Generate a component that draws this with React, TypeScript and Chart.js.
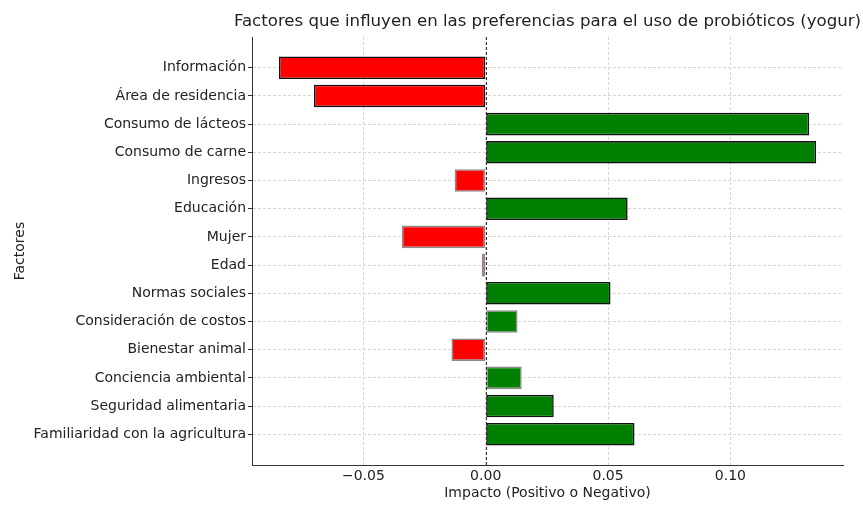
import React, { useEffect, useRef } from "react";
import { Chart, registerables } from "chart.js";

Chart.register(...registerables);

const chartTitle = "Factores que influyen en las preferencias para el uso de probióticos (yogur)";
const xAxisTitle = "Impacto (Positivo o Negativo)";
const yAxisTitle = "Factores";

const categories = [
  "Información",
  "Área de residencia",
  "Consumo de lácteos",
  "Consumo de carne",
  "Ingresos",
  "Educación",
  "Mujer",
  "Edad",
  "Normas sociales",
  "Consideración de costos",
  "Bienestar animal",
  "Conciencia ambiental",
  "Seguridad alimentaria",
  "Familiaridad con la agricultura",
];

const impacts = [
  -0.0845, -0.0702, 0.1322, 0.135, -0.0127, 0.058, -0.0343, -0.0016, 0.051, 0.013, -0.014, 0.0147, 0.0278,
  0.0608,
];

// whether the bar was drawn with a dark edge (significant) or a grey edge
const significant = [true, true, true, true, false, true, false, false, true, false, false, false, true, true];

const xTicks = [-0.05, 0, 0.05, 0.1];
const xMin = -0.0955;
const xMax = 0.146;

const FONT = "'DejaVu Sans', sans-serif";
const TEXT = "#222";

function fmtTick(v: number): string {
  const s = Math.abs(v).toFixed(2);
  return v < -1e-9 ? "\u2212" + s : s;
}

const overlayPlugin = {
  id: "overlay",
  afterDatasetsDraw(chart: any) {
    const { ctx, chartArea, scales } = chart;
    const x0 = scales.x.getPixelForValue(0);
    ctx.save();
    ctx.strokeStyle = "#333";
    ctx.lineWidth = 1;
    ctx.setLineDash([3, 2]);
    ctx.beginPath();
    ctx.moveTo(Math.round(x0) + 0.5, chartArea.top);
    ctx.lineTo(Math.round(x0) + 0.5, chartArea.bottom);
    ctx.stroke();
    ctx.restore();
  },
  afterDraw(chart: any) {
    const { ctx, chartArea } = chart;
    ctx.save();
    ctx.fillStyle = TEXT;
    ctx.font = `16.6px ${FONT}`;
    ctx.textAlign = "center";
    ctx.textBaseline = "middle";
    ctx.fillText(chartTitle, (chartArea.left + chartArea.right) / 2, 22);
    ctx.restore();
  },
};

export default function App() {
  const ref = useRef<HTMLCanvasElement | null>(null);

  useEffect(() => {
    if (!ref.current) return;
    const data = impacts.map((v, i) => ({ x: v, y: i }));
    const chart = new Chart(ref.current, {
      type: "bar",
      data: {
        datasets: [
          {
            data: data as any,
            backgroundColor: impacts.map((v) => (v >= 0 ? "#008000" : "#ff0000")),
            borderColor: significant.map((s) => (s ? "#111" : "#8a8a8a")),
            borderWidth: 1.6,
            borderSkipped: false,
            barPercentage: 0.8,
            categoryPercentage: 1,
          },
        ],
      },
      plugins: [overlayPlugin],
      options: {
        indexAxis: "y",
        responsive: false,
        animation: false,
        events: [],
        layout: { padding: { top: 37, right: 20, bottom: 0, left: 0 } },
        plugins: {
          legend: { display: false },
          tooltip: { enabled: false },
          title: { display: false },
        },
        scales: {
          x: {
            type: "linear",
            min: xMin,
            max: xMax,
            offset: false,
            afterBuildTicks: (s: any) => {
              s.ticks = xTicks.map((v) => ({ value: v }));
            },
            afterFit: (s: any) => {
              s.height = 40;
            },
            ticks: {
              callback: (v: any) => fmtTick(Number(v)),
              font: { family: FONT, size: 14 },
              color: TEXT,
              padding: 3,
              maxRotation: 0,
            },
            grid: { color: "#d6d6d6", lineWidth: 1, drawTicks: false, offset: false },
            border: { display: true, color: "#333", width: 1, dash: [3, 2] },
            title: {
              display: true,
              text: xAxisTitle,
              font: { family: FONT, size: 14 },
              color: TEXT,
              padding: { top: 0, bottom: 3 },
            },
          },
          y: {
            type: "linear",
            reverse: true,
            offset: false,
            min: -1.09,
            max: categories.length - 1 + 1.09,
            afterBuildTicks: (s: any) => {
              s.ticks = categories.map((_, i) => ({ value: i }));
            },
            afterFit: (s: any) => {
              s.width = 252;
            },
            ticks: {
              callback: (v: any) => categories[Number(v)] ?? "",
              font: { family: FONT, size: 14 },
              color: TEXT,
              padding: 2,
              autoSkip: false,
            },
            grid: {
              offset: false,
              color: "#d6d6d6",
              lineWidth: 1,
              drawTicks: true,
              tickLength: 4,
              tickColor: "#333",
              tickWidth: 1,
            },
            border: { display: true, color: "#333", width: 1, dash: [3, 2] },
            title: {
              display: true,
              text: yAxisTitle,
              font: { family: FONT, size: 14 },
              color: TEXT,
              padding: { top: 12, bottom: 0 },
            },
          },
        },
      } as any,
    });
    return () => chart.destroy();
  }, []);

  return (
    <div style={{ position: "fixed", left: 0, top: 0, width: 863, height: 505, background: "#fff" }}>
      <canvas ref={ref} width={863} height={505} style={{ display: "block" }} />
    </div>
  );
}
